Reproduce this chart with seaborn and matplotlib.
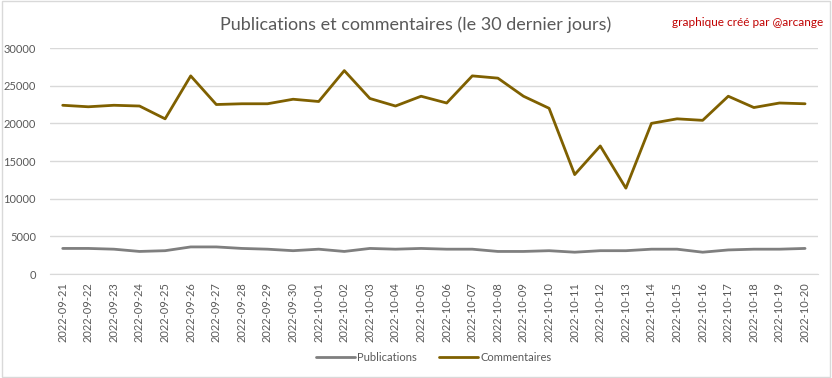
import pandas as pd
import matplotlib.pyplot as plt
import seaborn as sns

# Data
dates = pd.date_range("2022-09-21", "2022-10-20").strftime("%Y-%m-%d").tolist()
publications = [3400, 3400, 3300, 3000, 3100, 3600, 3600, 3400, 3300, 3100,
                3300, 3000, 3400, 3300, 3400, 3300, 3300, 3000, 3000, 3100,
                2900, 3100, 3100, 3300, 3300, 2900, 3200, 3300, 3300, 3400]
commentaires = [22400, 22200, 22400, 22300, 20600, 26300, 22500, 22600, 22600, 23200,
                22900, 27000, 23300, 22300, 23600, 22700, 26300, 26000, 23600, 22000,
                13200, 17000, 11400, 20000, 20600, 20400, 23600, 22100, 22700, 22600]

df = pd.DataFrame({"Date": dates, "Publications": publications, "Commentaires": commentaires})
df_long = df.melt(id_vars="Date", var_name="Série", value_name="Valeur")

sns.set_style("white")
plt.rcParams['font.family'] = ['Lato', 'DejaVu Sans']

fig = plt.figure(figsize=(8.32, 3.78), dpi=100)
ax = fig.add_axes([0.060, 0.275, 0.923, 0.598])

sns.lineplot(data=df_long, x="Date", y="Valeur", hue="Série", ax=ax,
             palette={"Publications": "#7f7f7f", "Commentaires": "#7f6000"},
             linewidth=2.0, sort=False)

ax.set_xlim(-0.5, len(dates) - 0.5)
ax.set_ylim(0, 30000)
ax.set_yticks(range(0, 30001, 5000))
ax.yaxis.grid(True, color="#d9d9d9", linewidth=1)
ax.set_axisbelow(True)
for s in ["top", "right", "left"]:
    ax.spines[s].set_visible(False)
ax.spines["bottom"].set_color("#d9d9d9")
ax.set_xlabel("")
ax.set_ylabel("")
ax.tick_params(axis="x", rotation=90, labelsize=8, colors="#595959", length=0, pad=6)
ax.tick_params(axis="y", labelsize=8, colors="#595959", length=0, pad=10)

ax.legend(loc="center", bbox_to_anchor=(0.5, -0.367), ncol=2, frameon=False,
          fontsize=8, labelcolor="#595959", handlelength=3.5, handletextpad=0.2,
          columnspacing=2)

fig.text(0.5, 0.935, "Publications et commentaires (le 30 dernier jours)",
         ha="center", va="center", fontsize=13, color="#595959")
fig.text(0.99, 0.94, "graphique créé par @arcange", ha="right", va="center",
         fontsize=8.5, color="#c00000")

fig.patches.append(plt.Rectangle((0.002, 0.003), 0.996, 0.994, transform=fig.transFigure,
                                 fill=False, edgecolor="#d9d9d9", linewidth=1))

fig.savefig("out.png", dpi=100)
